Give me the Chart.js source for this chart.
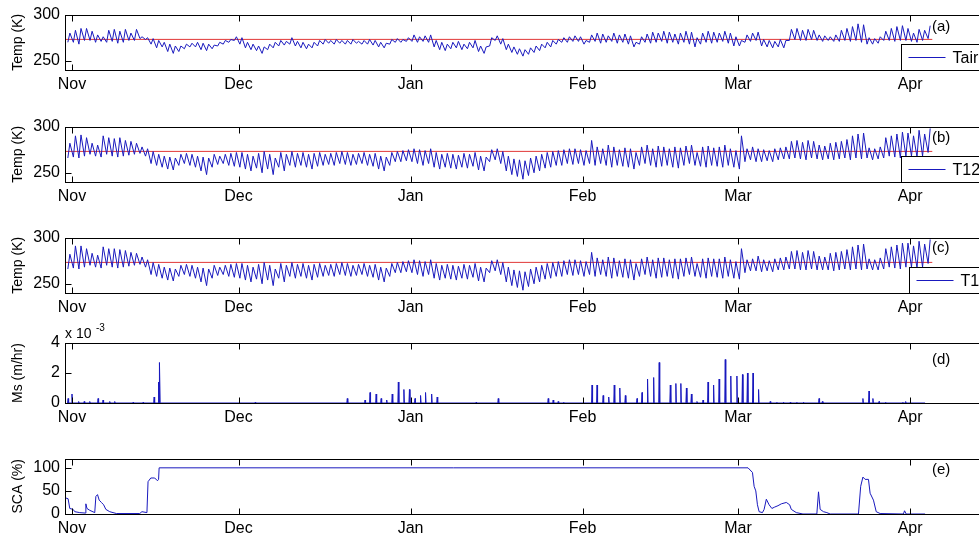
<!DOCTYPE html>
<html>
<head>
<meta charset="utf-8">
<script src="https://cdn.jsdelivr.net/npm/chart.js@4.4.1/dist/chart.umd.min.js"></script>
<style>
  html, body { margin: 0; padding: 0; background: #fff; width: 979px; height: 541px; overflow: hidden; }
  #wrap { position: relative; width: 979px; height: 541px; overflow: hidden; }
  canvas { position: absolute; left: 0; }
</style>
</head>
<body>
<div id="wrap">
  <canvas id="pa" width="1010" height="100"></canvas>
  <canvas id="pb" width="1010" height="100"></canvas>
  <canvas id="pc" width="1010" height="100"></canvas>
  <canvas id="pd" width="1010" height="120"></canvas>
  <canvas id="pe" width="1010" height="100"></canvas>
</div>
<script>
// x axis: days since 1 Nov
const tickDays = [0, 30, 61, 92, 120, 151];
const tickLabels = ['Nov', 'Dec', 'Jan', 'Feb', 'Mar', 'Apr'];
const firstDay = -1;           // daily values start on 31 Oct
const freezeK = 273.15;

// (a) Tair, daily max / min (K), 31 Oct .. 4 Apr
const tairMax = [280,
  283,285,285,282,278,276,283,284,282,284,280,284,276,275,274,272,270,268,266,266,268,269,270,269,268,267,270,272,273,276,
  275,270,268,266,265,268,270,272,271,275,271,270,268,270,272,273,272,273,272,272,273,271,272,273,272,270,269,273,274,273,275,
  278,276,277,278,272,270,268,270,271,268,270,272,266,265,275,277,274,268,265,263,262,264,266,268,270,272,273,275,276,277,276,
  272,278,280,279,277,280,278,279,277,270,276,279,281,280,282,281,279,280,282,281,275,280,282,281,280,282,280,276,
  272,278,280,281,273,272,271,273,272,284,285,283,284,283,278,277,276,278,283,285,287,290,289,275,274,276,282,285,287,288,285,
  280,284,283,288];
const tairMin = [270,
  270,268,272,272,270,271,270,271,269,270,272,272,274,273,268,264,265,260,258,260,263,265,265,262,261,263,266,268,270,272,
  268,264,262,261,258,262,264,266,267,268,266,264,263,264,266,268,269,268,269,268,268,269,268,268,267,265,264,268,270,270,271,
  271,270,271,270,265,262,261,263,264,262,263,264,260,258,266,272,268,262,259,257,255,257,259,261,264,265,268,270,270,271,271,
  268,270,271,269,270,271,269,270,268,265,268,270,269,270,271,269,270,268,270,268,265,268,270,269,270,271,269,266,
  266,270,271,272,266,265,264,265,264,272,273,272,272,273,272,271,272,271,271,272,271,272,270,268,268,269,272,272,271,272,272,
  271,270,272,274];

// (b) T12, daily max / min (K)
const t12Max = [282,
  290,291,288,282,280,290,288,287,288,285,284,282,278,276,273,270,268,267,266,270,271,270,268,267,266,270,268,270,271,272,
  272,270,268,271,273,270,266,272,270,273,271,272,270,271,272,270,271,272,273,272,270,271,272,270,271,268,267,272,273,274,275,
  276,275,274,276,272,270,271,270,269,271,270,272,268,267,275,276,273,268,265,264,263,266,268,270,272,273,274,275,276,276,275,
  274,285,278,276,280,278,275,277,276,272,278,280,276,279,278,276,278,277,279,280,272,278,279,277,278,280,276,274,
  290,276,278,276,275,274,276,277,278,284,285,283,285,284,280,279,282,283,284,286,290,292,293,277,276,278,288,290,292,294,293,
  290,296,292,298];
const t12Min = [266,
  267,266,268,270,268,267,270,268,267,268,269,270,271,268,260,258,256,254,253,258,260,258,256,252,248,256,259,260,258,257,
  256,254,252,255,250,254,248,256,252,258,256,258,256,254,257,258,259,258,260,259,258,259,260,258,257,254,252,258,262,262,263,
  262,260,258,260,256,254,256,255,254,256,255,257,253,252,262,264,260,252,248,246,243,247,250,252,255,256,258,258,260,259,260,
  258,260,258,260,258,256,258,257,256,254,258,260,258,256,257,258,256,255,258,260,258,257,256,258,257,256,258,256,
  254,262,264,262,262,263,262,264,265,265,266,265,264,266,265,264,265,264,265,266,264,266,265,266,264,265,266,268,267,266,268,
  268,267,268,272];

// (c) T1, daily max / min (K)
const t1Max = [282,
  291,291,288,283,281,290,288,288,287,286,284,283,279,276,273,271,268,267,266,270,271,270,268,267,266,270,268,270,271,272,
  272,270,268,271,273,270,266,272,270,273,271,272,270,271,272,270,271,272,273,272,270,271,272,270,271,268,267,272,273,274,275,
  276,275,274,276,272,270,271,270,269,271,270,272,268,267,275,276,273,268,265,264,263,266,268,270,272,273,274,275,276,276,275,
  274,284,278,276,279,278,275,277,276,272,277,279,276,278,278,276,277,277,278,279,272,277,278,277,277,279,276,274,
  288,276,277,280,276,275,277,278,279,285,286,284,286,285,280,279,283,284,285,287,290,292,293,277,276,278,288,290,292,294,294,
  291,296,293,298];
const t1Min = [266,
  267,266,268,270,268,267,270,268,267,268,269,270,271,268,260,258,256,254,253,258,260,258,256,252,248,256,259,260,258,257,
  256,254,252,255,250,254,248,256,252,258,256,258,256,254,257,258,259,258,260,259,258,259,260,258,257,254,252,258,262,262,263,
  262,260,258,260,256,254,256,255,254,256,255,257,253,252,262,264,260,252,248,246,243,247,250,252,255,256,258,258,260,259,260,
  258,260,258,260,258,256,258,257,256,254,258,260,258,256,257,258,256,255,258,260,258,257,256,258,257,256,258,256,
  255,262,264,264,263,264,263,265,265,266,266,265,265,266,265,265,265,264,265,266,265,266,265,266,265,265,266,268,267,266,268,
  268,267,268,272];

// (d) melt rate spikes: day since 1 Nov, value in 1e-3 m/hr
const msDay = [-0.7,0.0,1.2,2.2,3.2,4.7,5.6,6.8,7.7,11.0,12.8,14.8,15.6,15.8,33.0,
  49.6,52.8,53.7,54.8,55.7,56.7,57.7,58.8,59.8,60.8,61.8,62.8,63.7,64.8,65.8,72.8,76.8,
  85.8,86.7,87.6,88.6,93.7,94.6,95.7,96.7,97.7,98.7,99.7,101.8,102.7,103.7,104.8,105.8,
  107.8,108.8,109.7,110.7,111.6,112.6,113.7,114.6,115.6,116.6,117.7,118.7,119.8,120.8,121.7,122.7,123.7,
  125.8,127.0,128.2,129.4,130.6,131.8,134.6,135.2,142.5,143.6,144.3,145.4,146.6,149.7,150.2];
const msVal = [0.3,0.6,0.1,0.1,0.1,0.3,0.2,0.1,0.1,0.05,0.05,0.4,1.4,2.7,0.05,
  0.3,0.2,0.7,0.6,0.3,0.2,0.6,1.4,0.9,0.9,0.3,0.5,0.7,0.6,0.4,0.05,0.3,
  0.3,0.2,0.1,0.05,1.2,1.2,0.5,0.4,1.2,1.0,0.5,0.3,0.7,1.6,1.7,2.7,
  1.2,1.3,1.3,1.0,0.6,0.1,0.2,1.4,1.2,1.6,2.9,1.8,1.8,1.9,2.0,2.0,0.9,
  0.1,0.05,0.05,0.05,0.05,0.05,0.3,0.1,0.3,0.8,0.3,0.1,0.05,0.05,0.1];

// (e) snow covered area (%)
const scaDay = [-1.2,-0.7,-0.4,0.2,0.5,1.4,2.4,2.5,2.7,3.2,4.1,4.3,4.6,4.9,5.3,5.7,6.1,6.8,8.0,12.2,12.6,13.5,13.7,14.2,14.9,15.4,15.6,15.7,
  121.8,122.6,122.9,123.2,123.5,123.8,124.4,124.7,125.1,125.6,126.1,126.6,127.2,127.8,128.7,129.3,129.6,130.5,131.7,
  134.2,134.5,134.8,135.4,136.0,136.6,141.7,142.1,142.5,142.9,143.5,143.8,144.4,144.9,145.6,149.8,150.0,150.3,153.7];
const scaVal = [35,33,12,10,5,3,2,22,12,8,3,38,42,30,25,20,10,5,1,1,5,3,70,78,78,72,75,100,
  100,90,60,50,20,5,3,10,32,20,12,15,18,22,25,20,10,3,0,
  0,48,10,5,3,0,0,60,80,75,75,45,30,5,1,0,7,0,0];

const xMin = -1.26, xMax = 167.2;
const blue = 'rgb(25,25,190)';
const red = 'rgb(225,55,55)';
const tickFont = { family: 'Liberation Sans, Arial, sans-serif', size: 16 };

function diurnal(hi, lo) {
  const pts = [];
  for (let i = 0; i < hi.length; i++) {
    const d = firstDay + i;
    pts.push({ x: d + 0.25, y: lo[i] }, { x: d + 0.62, y: hi[i] });
  }
  return pts;
}

function spikes(days, vals) {
  const pts = [{ x: firstDay + 0.2, y: 0 }];
  for (let i = 0; i < days.length; i++) {
    pts.push({ x: days[i] - 0.09, y: 0 }, { x: days[i], y: vals[i] }, { x: days[i] + 0.09, y: 0 });
  }
  pts.push({ x: 153.7, y: 0 });
  return pts;
}

// box, inside ticks, panel tag and legend drawn the way the original figure has them
const matlabAxes = {
  id: 'matlabAxes',
  afterDraw(chart, args, o) {
    const { ctx, chartArea: a } = chart;
    const x = chart.scales.x, y = chart.scales.y;
    const L = Math.round(a.left) + 0.5, R = Math.round(a.right) + 0.5;
    const T = Math.round(a.top) + 0.5, B = Math.round(a.bottom) + 0.5;
    ctx.save();
    ctx.strokeStyle = '#000';
    ctx.lineWidth = 1;
    ctx.strokeRect(L, T, R - L, B - T);
    ctx.beginPath();
    x.ticks.forEach(t => {
      const px = Math.round(x.getPixelForValue(t.value)) + 0.5;
      ctx.moveTo(px, B); ctx.lineTo(px, B - 6);
      ctx.moveTo(px, T); ctx.lineTo(px, T + 6);
    });
    y.ticks.forEach(t => {
      const py = Math.round(y.getPixelForValue(t.value)) + 0.5;
      ctx.moveTo(L, py); ctx.lineTo(L + 6, py);
      ctx.moveTo(R, py); ctx.lineTo(R - 6, py);
    });
    ctx.stroke();

    ctx.fillStyle = '#000';
    ctx.font = '15px "Liberation Sans", Arial, sans-serif';
    ctx.textBaseline = 'middle';
    ctx.textAlign = 'left';
    if (o.tag) ctx.fillText(o.tag, 932, a.top + o.tagDy);

    if (o.legend) {
      const lt = Math.round(a.top + 29) + 0.5, lh = 26;
      const ll = o.legendLeft + 0.5;
      ctx.fillStyle = '#fff';
      ctx.fillRect(ll, lt, R - 4 - ll, lh);
      ctx.strokeStyle = '#000';
      ctx.strokeRect(ll, lt, R - 4 - ll, lh);
      ctx.strokeStyle = blue;
      ctx.beginPath();
      ctx.moveTo(ll + 7, lt + lh / 2); ctx.lineTo(ll + 44, lt + lh / 2);
      ctx.stroke();
      ctx.fillStyle = '#000';
      ctx.font = '16px "Liberation Sans", Arial, sans-serif';
      ctx.fillText(o.legend, ll + 51, lt + lh / 2 + 1);
    }

    if (o.exponent) {
      ctx.textBaseline = 'alphabetic';
      ctx.font = '14px "Liberation Sans", Arial, sans-serif';
      ctx.fillText('x 10', 65, a.top - 5);
      ctx.font = '10px "Liberation Sans", Arial, sans-serif';
      ctx.fillText('-3', 96, a.top - 12);
    }
    ctx.restore();
  }
};

function makePanel(id, top, padTop, datasets, yMin, yMax, yTicks, yTitle, extra) {
  const cv = document.getElementById(id);
  cv.style.top = (top - padTop) + 'px';
  return new Chart(cv, {
    type: 'line',
    data: { datasets: datasets },
    options: {
      responsive: false,
      animation: false,
      devicePixelRatio: 1,
      parsing: false,
      layout: { padding: { top: padTop, right: 10, left: 0, bottom: 0 } },
      elements: { point: { radius: 0 }, line: { tension: 0, borderWidth: 1 } },
      plugins: { legend: { display: false }, tooltip: { enabled: false }, matlabAxes: extra },
      scales: {
        x: {
          type: 'linear', min: xMin, max: xMax,
          grid: { display: false, drawTicks: false },
          border: { display: false },
          afterBuildTicks: s => { s.ticks = tickDays.map(v => ({ value: v })); },
          ticks: { autoSkip: false, maxRotation: 0, padding: 5, color: '#000', font: tickFont,
                   callback: (v, i) => tickLabels[i] },
          afterFit: s => { s.height = 30; }
        },
        y: {
          min: yMin, max: yMax,
          grid: { display: false, drawTicks: false },
          border: { display: false },
          afterBuildTicks: s => { s.ticks = yTicks.map(v => ({ value: v })); },
          ticks: { padding: 5, color: '#000', font: tickFont },
          title: { display: true, text: yTitle, color: '#000',
                   font: { family: 'Liberation Sans, Arial, sans-serif', size: 14 },
                   padding: { top: 10, bottom: 0 } },
          afterFit: s => { s.width = 65; }
        }
      }
    },
    plugins: [matlabAxes]
  });
}

function tempSets(hi, lo) {
  return [
    { data: diurnal(hi, lo), borderColor: blue },
    { data: [{ x: firstDay - 0.3, y: freezeK }, { x: firstDay + hi.length, y: freezeK }], borderColor: red }
  ];
}

makePanel('pa', 10, 10, tempSets(tairMax, tairMin), 240, 300, [250, 300], 'Temp (K)',
  { tag: '(a)', tagDy: 12, legend: 'Tair', legendLeft: 901 });
makePanel('pb', 122, 10, tempSets(t12Max, t12Min), 240, 300, [250, 300], 'Temp (K)',
  { tag: '(b)', tagDy: 11, legend: 'T12', legendLeft: 901 });
makePanel('pc', 233, 10, tempSets(t1Max, t1Min), 240, 300, [250, 300], 'Temp (K)',
  { tag: '(c)', tagDy: 10, legend: 'T1', legendLeft: 909 });
makePanel('pd', 343, 30, [{ data: spikes(msDay, msVal), borderColor: blue }], 0, 4, [0, 2, 4], 'Ms (m/hr)',
  { tag: '(d)', tagDy: 17, exponent: true });
makePanel('pe', 454, 10, [{ data: scaDay.map((d, i) => ({ x: d, y: scaVal[i] })), borderColor: blue }], 0, 120, [0, 50, 100], 'SCA (%)',
  { tag: '(e)', tagDy: 11 });
</script>
</body>
</html>
